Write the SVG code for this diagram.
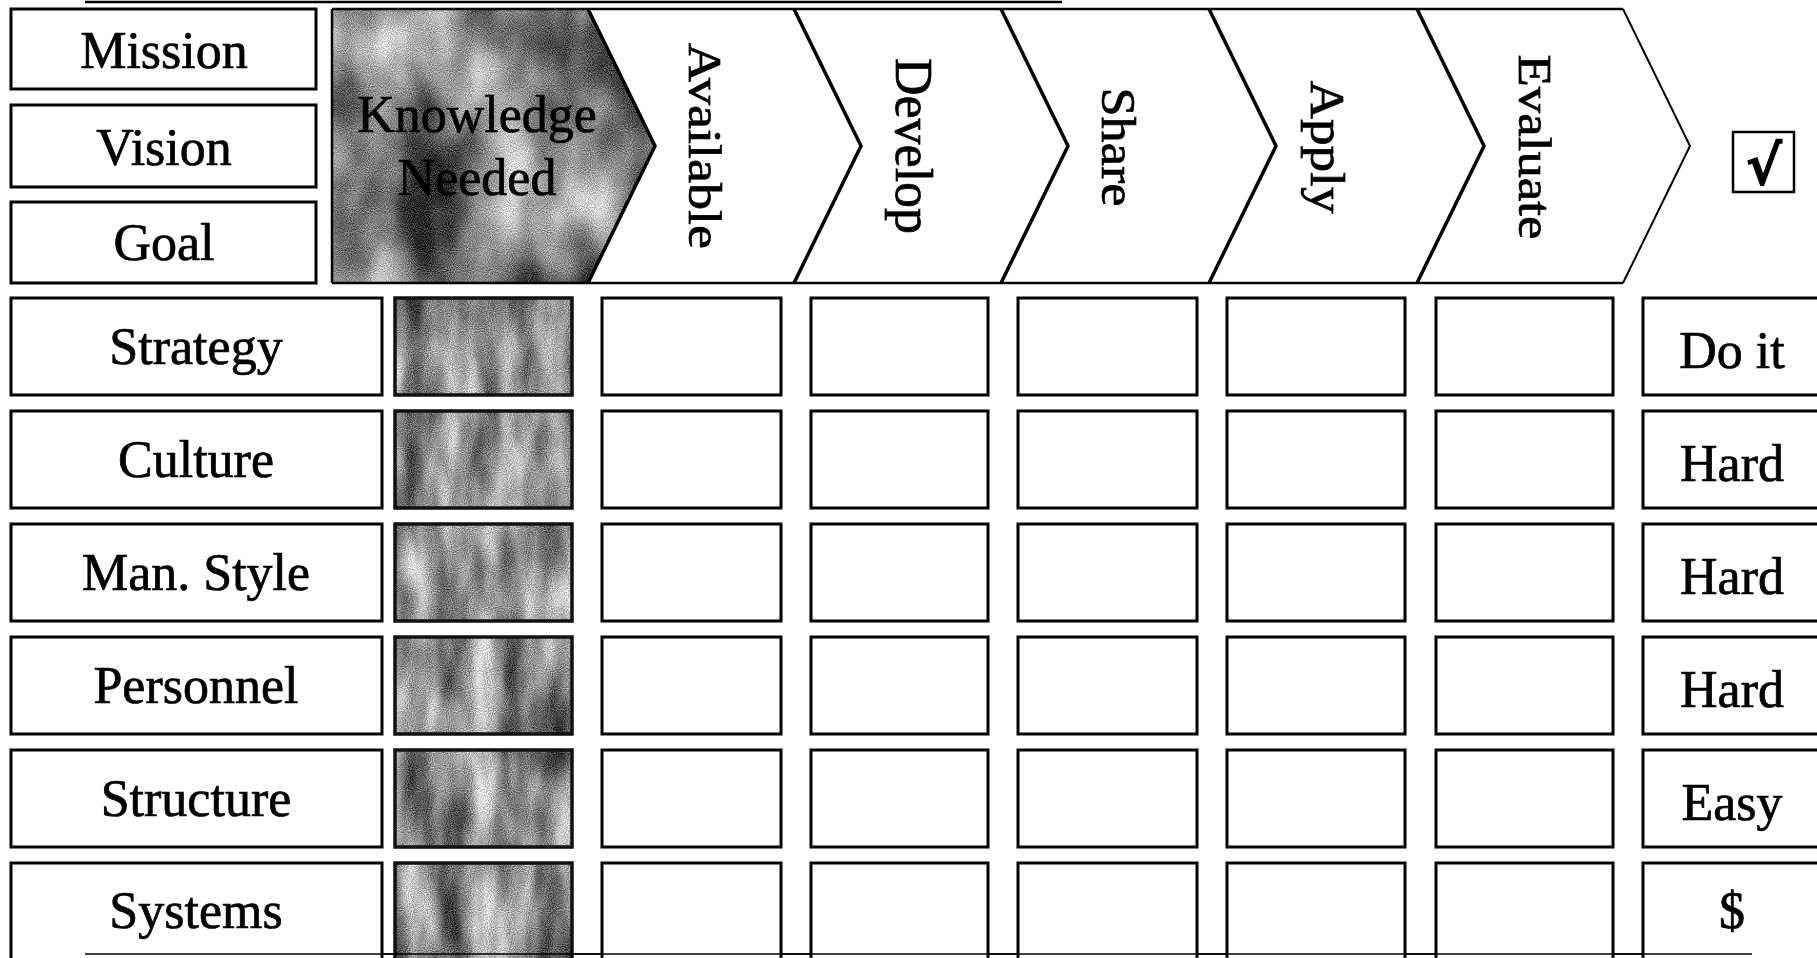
<svg xmlns="http://www.w3.org/2000/svg" width="1817" height="958" viewBox="0 0 1817 958">
<style>
  .lbl { font-family: "Liberation Serif", "Times New Roman", serif; font-size: 52px; fill: #000; stroke: #000; stroke-width: 0.7px; text-anchor: middle; }
  .box { fill: #fff; stroke: #000; stroke-width: 3; }
  .tbox { fill: none; stroke: #111; stroke-width: 3.5; }
  .tex { fill: #888; filter: url(#grain); }
  .texd { fill: #777; filter: url(#grainDark); }
  .edge { stroke: #000; stroke-width: 2.5; fill: none; }
  .bound { stroke: #000; stroke-width: 3.5; fill: none; stroke-linejoin: miter; }
  .thin { stroke: #000; stroke-width: 1.5; fill: none; }
</style>
<defs>
  <filter id="grain" x="0" y="0" width="100%" height="100%" color-interpolation-filters="sRGB">
    <feTurbulence type="fractalNoise" baseFrequency="0.03 0.009" numOctaves="3" seed="5" result="n1"/>
    <feColorMatrix in="n1" type="matrix" values="1.5 0 0 0 -0.2  1.5 0 0 0 -0.2  1.5 0 0 0 -0.2  0 0 0 0 1" result="g1"/>
    <feTurbulence type="fractalNoise" baseFrequency="0.95" numOctaves="1" seed="2" result="n2"/>
    <feColorMatrix in="n2" type="matrix" values="2 0 0 0 -0.5  2 0 0 0 -0.5  2 0 0 0 -0.5  0 0 0 0 1" result="g2"/>
    <feComposite in="g1" in2="g2" operator="arithmetic" k1="0" k2="0.7" k3="0.4" k4="-0.02" result="mix"/>
    <feComposite in="mix" in2="SourceAlpha" operator="in"/>
  </filter>
  <filter id="grainDark" x="0" y="0" width="100%" height="100%" color-interpolation-filters="sRGB">
    <feTurbulence type="fractalNoise" baseFrequency="0.015 0.008" numOctaves="3" seed="11" result="n1"/>
    <feColorMatrix in="n1" type="matrix" values="1.8 0 0 0 -0.42  1.8 0 0 0 -0.42  1.8 0 0 0 -0.42  0 0 0 0 1" result="g1"/>
    <feTurbulence type="fractalNoise" baseFrequency="0.95" numOctaves="1" seed="7" result="n2"/>
    <feColorMatrix in="n2" type="matrix" values="2 0 0 0 -0.5  2 0 0 0 -0.5  2 0 0 0 -0.5  0 0 0 0 1" result="g2"/>
    <feComposite in="g1" in2="g2" operator="arithmetic" k1="0" k2="0.7" k3="0.4" k4="-0.04" result="mix"/>
    <feComposite in="mix" in2="SourceAlpha" operator="in"/>
  </filter>
</defs>
<rect width="1817" height="958" fill="#fff"/>

<g id="frame-lines">
  <line class="edge" x1="85" y1="2" x2="1062" y2="2"/>
  <line class="thin" x1="85" y1="954" x2="1752" y2="954"/>
</g>

<g id="mission">
  <rect class="box" x="11" y="9" width="305" height="80"/>
  <text class="lbl" x="164" y="68">Mission</text>
</g>
<g id="vision">
  <rect class="box" x="11" y="105" width="305" height="82"/>
  <text class="lbl" x="164" y="165">Vision</text>
</g>
<g id="goal">
  <rect class="box" x="11" y="202" width="305" height="81"/>
  <text class="lbl" x="164" y="260">Goal</text>
</g>

<g id="process-chevrons">
  <g id="chev-knowledge">
    <polygon class="texd" points="332,9 588,9 655,146 588,283 332,283"/>
    <text class="lbl" x="477" y="132">Knowledge</text>
    <text class="lbl" x="477" y="195">Needed</text>
  </g>
  <g id="chev-available">
    <polygon fill="#fff" points="588,9 794,9 861,146 794,283 588,283 655,146"/>
    <text class="lbl" transform="translate(689,146) rotate(90)" textLength="206" lengthAdjust="spacingAndGlyphs" style="font-size:46px">Available</text>
  </g>
  <g id="chev-develop">
    <polygon fill="#fff" points="794,9 1001,9 1068,146 1001,283 794,283 861,146"/>
    <text class="lbl" transform="translate(896,146) rotate(90)">Develop</text>
  </g>
  <g id="chev-share">
    <polygon fill="#fff" points="1001,9 1209,9 1276,146 1209,283 1001,283 1068,146"/>
    <text class="lbl" transform="translate(1102,147) rotate(90)" style="font-size:48px" textLength="119" lengthAdjust="spacingAndGlyphs">Share</text>
  </g>
  <g id="chev-apply">
    <polygon fill="#fff" points="1209,9 1417,9 1484,146 1417,283 1209,283 1276,146"/>
    <text class="lbl" transform="translate(1311,147) rotate(90)" style="font-size:48px" textLength="133" lengthAdjust="spacingAndGlyphs">Apply</text>
  </g>
  <g id="chev-evaluate">
    <polygon fill="#fff" points="1417,9 1623,9 1690,146 1623,283 1417,283 1484,146"/>
    <text class="lbl" transform="translate(1519,147) rotate(90)" style="font-size:46px" textLength="185" lengthAdjust="spacingAndGlyphs">Evaluate</text>
  </g>
  <g id="chevron-outlines">
    <line class="edge" x1="332" y1="9" x2="1623" y2="9"/>
    <line class="edge" x1="332" y1="283" x2="1623" y2="283"/>
    <line class="edge" x1="332" y1="9" x2="332" y2="283"/>
    <polyline class="bound" points="588,9 655,146 588,283"/>
    <polyline class="bound" points="794,9 861,146 794,283"/>
    <polyline class="bound" points="1001,9 1068,146 1001,283"/>
    <polyline class="bound" points="1209,9 1276,146 1209,283"/>
    <polyline class="bound" points="1417,9 1484,146 1417,283"/>
    <polyline class="thin" points="1623,9 1690,146 1623,283" style="stroke-width:2"/>
  </g>
</g>

<g id="checkbox">
  <rect x="1733" y="132" width="61" height="60" fill="#fff" stroke="#000" stroke-width="2.5"/>
  <text x="1764" y="184" text-anchor="middle" style="font-family:'DejaVu Serif','Liberation Serif',serif;font-weight:bold;font-size:54px;fill:#000;stroke:#000;stroke-width:1.5px">√</text>
</g>

<g id="row-labels">
  <g id="strategy"><rect class="box" x="11" y="298" width="371" height="97"/><text class="lbl" x="196" y="364">Strategy</text></g>
  <g id="culture"><rect class="box" x="11" y="411" width="371" height="97"/><text class="lbl" x="196" y="477">Culture</text></g>
  <g id="man-style"><rect class="box" x="11" y="524" width="371" height="97"/><text class="lbl" x="196" y="590">Man. Style</text></g>
  <g id="personnel"><rect class="box" x="11" y="637" width="371" height="97"/><text class="lbl" x="196" y="703">Personnel</text></g>
  <g id="structure"><rect class="box" x="11" y="750" width="371" height="97"/><text class="lbl" x="196" y="816">Structure</text></g>
  <g id="systems"><rect class="box" x="11" y="863" width="371" height="110"/><text class="lbl" x="196" y="928">Systems</text></g>
</g>

<g id="knowledge-cells">
  <g id="kc1"><rect class="tex" x="395" y="298" width="177" height="97"/><rect class="tbox" x="395" y="298" width="177" height="97"/></g>
  <g id="kc2"><rect class="tex" x="395" y="411" width="177" height="97"/><rect class="tbox" x="395" y="411" width="177" height="97"/></g>
  <g id="kc3"><rect class="tex" x="395" y="524" width="177" height="97"/><rect class="tbox" x="395" y="524" width="177" height="97"/></g>
  <g id="kc4"><rect class="tex" x="395" y="637" width="177" height="97"/><rect class="tbox" x="395" y="637" width="177" height="97"/></g>
  <g id="kc5"><rect class="tex" x="395" y="750" width="177" height="97"/><rect class="tbox" x="395" y="750" width="177" height="97"/></g>
  <g id="kc6"><rect class="tex" x="395" y="863" width="177" height="110"/><rect class="tbox" x="395" y="863" width="177" height="110"/></g>
</g>

<g id="empty-cells">
  <g id="col-available">
    <rect class="box" x="602" y="298" width="179" height="97"/>
    <rect class="box" x="602" y="411" width="179" height="97"/>
    <rect class="box" x="602" y="524" width="179" height="97"/>
    <rect class="box" x="602" y="637" width="179" height="97"/>
    <rect class="box" x="602" y="750" width="179" height="97"/>
    <rect class="box" x="602" y="863" width="179" height="110"/>
  </g>
  <g id="col-develop">
    <rect class="box" x="811" y="298" width="177" height="97"/>
    <rect class="box" x="811" y="411" width="177" height="97"/>
    <rect class="box" x="811" y="524" width="177" height="97"/>
    <rect class="box" x="811" y="637" width="177" height="97"/>
    <rect class="box" x="811" y="750" width="177" height="97"/>
    <rect class="box" x="811" y="863" width="177" height="110"/>
  </g>
  <g id="col-share">
    <rect class="box" x="1018" y="298" width="179" height="97"/>
    <rect class="box" x="1018" y="411" width="179" height="97"/>
    <rect class="box" x="1018" y="524" width="179" height="97"/>
    <rect class="box" x="1018" y="637" width="179" height="97"/>
    <rect class="box" x="1018" y="750" width="179" height="97"/>
    <rect class="box" x="1018" y="863" width="179" height="110"/>
  </g>
  <g id="col-apply">
    <rect class="box" x="1227" y="298" width="178" height="97"/>
    <rect class="box" x="1227" y="411" width="178" height="97"/>
    <rect class="box" x="1227" y="524" width="178" height="97"/>
    <rect class="box" x="1227" y="637" width="178" height="97"/>
    <rect class="box" x="1227" y="750" width="178" height="97"/>
    <rect class="box" x="1227" y="863" width="178" height="110"/>
  </g>
  <g id="col-evaluate">
    <rect class="box" x="1436" y="298" width="177" height="97"/>
    <rect class="box" x="1436" y="411" width="177" height="97"/>
    <rect class="box" x="1436" y="524" width="177" height="97"/>
    <rect class="box" x="1436" y="637" width="177" height="97"/>
    <rect class="box" x="1436" y="750" width="177" height="97"/>
    <rect class="box" x="1436" y="863" width="177" height="110"/>
  </g>
</g>

<g id="ratings">
  <g id="r1"><rect class="box" x="1643" y="298" width="190" height="97"/><text class="lbl" x="1732" y="368">Do it</text></g>
  <g id="r2"><rect class="box" x="1643" y="411" width="190" height="97"/><text class="lbl" x="1732" y="481">Hard</text></g>
  <g id="r3"><rect class="box" x="1643" y="524" width="190" height="97"/><text class="lbl" x="1732" y="594">Hard</text></g>
  <g id="r4"><rect class="box" x="1643" y="637" width="190" height="97"/><text class="lbl" x="1732" y="707">Hard</text></g>
  <g id="r5"><rect class="box" x="1643" y="750" width="190" height="97"/><text class="lbl" x="1732" y="820">Easy</text></g>
  <g id="r6"><rect class="box" x="1643" y="863" width="190" height="110"/><text class="lbl" x="1732" y="928">$</text></g>
</g>

<line class="thin" x1="85" y1="954" x2="1752" y2="954"/>
</svg>
